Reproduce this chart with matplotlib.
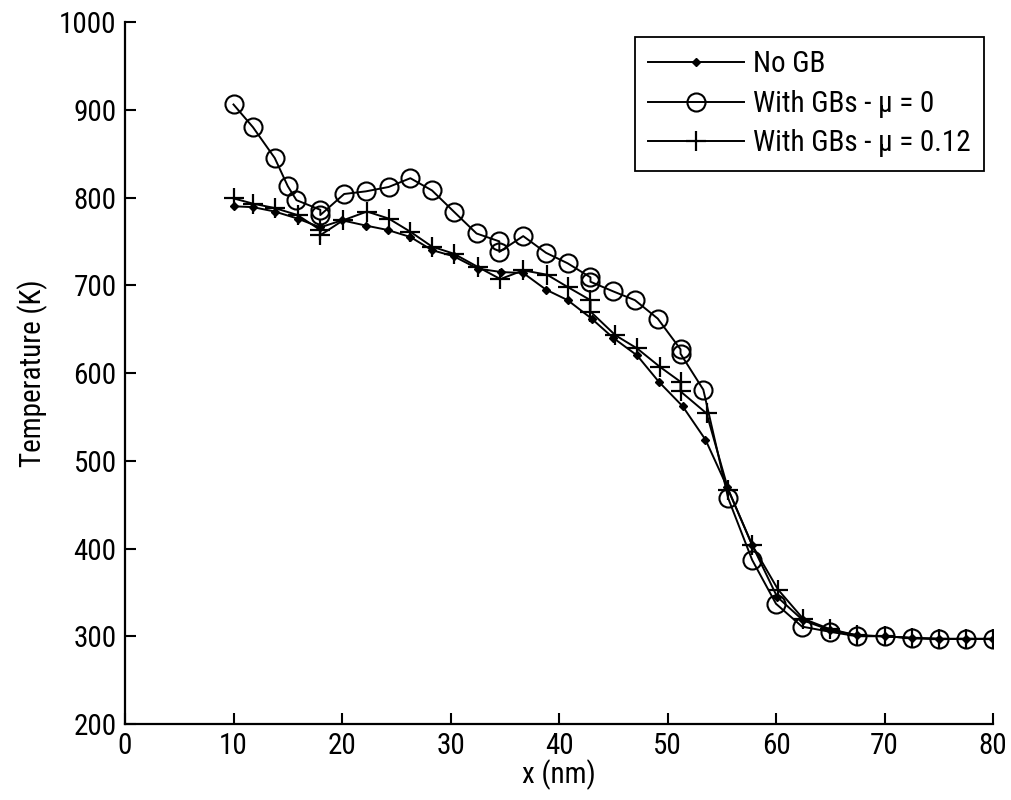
import matplotlib
matplotlib.use("Agg")
import matplotlib.pyplot as plt
from matplotlib import font_manager

# pick a narrow sans font if one is installed (reference uses tall, narrow Arial-like text)
_names = {f.name for f in font_manager.fontManager.ttflist}
_cands = [n for n in sorted(_names) if ('Narrow' in n or 'Condensed' in n)]
_pref = ['Liberation Sans Narrow', 'Arial Narrow', 'Roboto Condensed', 'Open Sans Condensed',
         'DejaVu Sans Condensed']
_chosen = None
for p in _pref:
    if p in _names:
        _chosen = p
        break
if _chosen is None and _cands:
    _chosen = _cands[0]
fams = ([_chosen] if _chosen else []) + ['Liberation Sans', 'DejaVu Sans']
plt.rcParams['font.family'] = fams

# No GB
x_nogb = [10, 11.8, 13.8, 15.9, 18, 20, 22.2, 24.2, 26.3, 28.3, 30.3, 32.5, 34.7, 36.7,
          38.8, 40.8, 43, 45, 47.2, 49.2, 51.4, 53.5, 55.5, 57.8, 60.1, 62.5, 65, 67.5,
          70, 72.5, 75, 77.5, 80]
t_nogb = [790, 789, 784, 776, 766, 774, 768, 763, 755, 740, 733, 719, 715, 714,
          695, 683, 662, 640, 620, 590, 562, 524, 470, 404, 345, 318, 307, 301,
          300, 298, 297, 297, 297]

# With GBs, mu = 0
x_mu0 = [10, 11.8, 13.8, 15, 15.8, 18, 18, 20.2, 22.2, 24.3, 26.3, 28.3, 30.3, 32.4,
         34.5, 34.5, 36.7, 38.8, 40.8, 42.9, 42.9, 45, 47, 49.1, 51.2, 51.2, 53.3,
         55.6, 57.8, 60, 62.4, 65, 67.5, 70, 72.5, 75, 77.5, 80]
t_mu0 = [906, 880, 845, 813, 797, 786, 780, 804, 807, 812, 822, 808, 784, 759,
         750, 738, 756, 737, 725, 709, 704, 693, 683, 662, 627, 622, 581,
         457, 387, 337, 311, 305, 300, 300, 298, 297, 297, 297]

# With GBs, mu = 0.12
x_mu12 = [10, 11.8, 13.8, 15.9, 18, 18, 20.1, 22.3, 24.3, 26.3, 28.3, 30.3, 32.5, 34.6,
          36.7, 38.9, 40.8, 42.9, 42.9, 45.2, 47.2, 49.3, 51.2, 51.2, 53.6, 55.6, 57.8,
          60.2, 62.5, 65, 67.5, 70, 72.5, 75, 77.5, 80]
t_mu12 = [799, 793, 788, 780, 763, 757, 774, 784, 776, 761, 744, 736, 721, 707,
          717, 712, 698, 683, 670, 643, 628, 607, 590, 579, 554, 467, 404,
          353, 320, 308, 301, 300, 298, 297, 297, 297]

labels = ['No GB', 'With GBs - \u03bc = 0', 'With GBs - \u03bc = 0.12']
x_ticks = [0, 10, 20, 30, 40, 50, 60, 70, 80]
y_ticks = [200, 300, 400, 500, 600, 700, 800, 900, 1000]

narrow = _chosen is not None and ('Narrow' in _chosen)
fs = 20 if narrow else (21 if _chosen else 16)

fig = plt.figure(figsize=(10.11, 8.0), dpi=100)
ax = fig.add_axes([125/1011, 76/800, 868/1011, 702/800])

ax.plot(x_nogb, t_nogb, color='black', lw=1.4, marker='D', ms=4.5,
        mfc='black', mec='black', label=labels[0])
ax.plot(x_mu0, t_mu0, color='black', lw=1.4, marker='o', ms=13,
        mfc='none', mec='black', mew=1.5, label=labels[1])
ax.plot(x_mu12, t_mu12, color='black', lw=1.4, marker='+', ms=15,
        mec='black', mew=1.6, label=labels[2])

ax.set_xlim(0, 80)
ax.set_ylim(200, 1000)
ax.set_xticks(x_ticks)
ax.set_yticks(y_ticks)
ax.tick_params(direction='in', length=8, width=1.5, labelsize=fs, pad=6)
for s in ['top', 'right']:
    ax.spines[s].set_visible(False)
for s in ['left', 'bottom']:
    ax.spines[s].set_linewidth(1.6)

ax.set_xlabel('x (nm)', fontsize=fs, labelpad=-1)
ax.set_ylabel('Temperature (K)', fontsize=fs, labelpad=8)

leg = ax.legend(loc='upper right', bbox_to_anchor=(0.9896, 0.9786), borderaxespad=0,
                fontsize=fs, handlelength=3.3, handletextpad=0.3, labelspacing=0.4,
                borderpad=0.45, fancybox=False, framealpha=1, edgecolor='black')
leg.get_frame().set_linewidth(1.3)

fig.savefig('out.png', dpi=100)
